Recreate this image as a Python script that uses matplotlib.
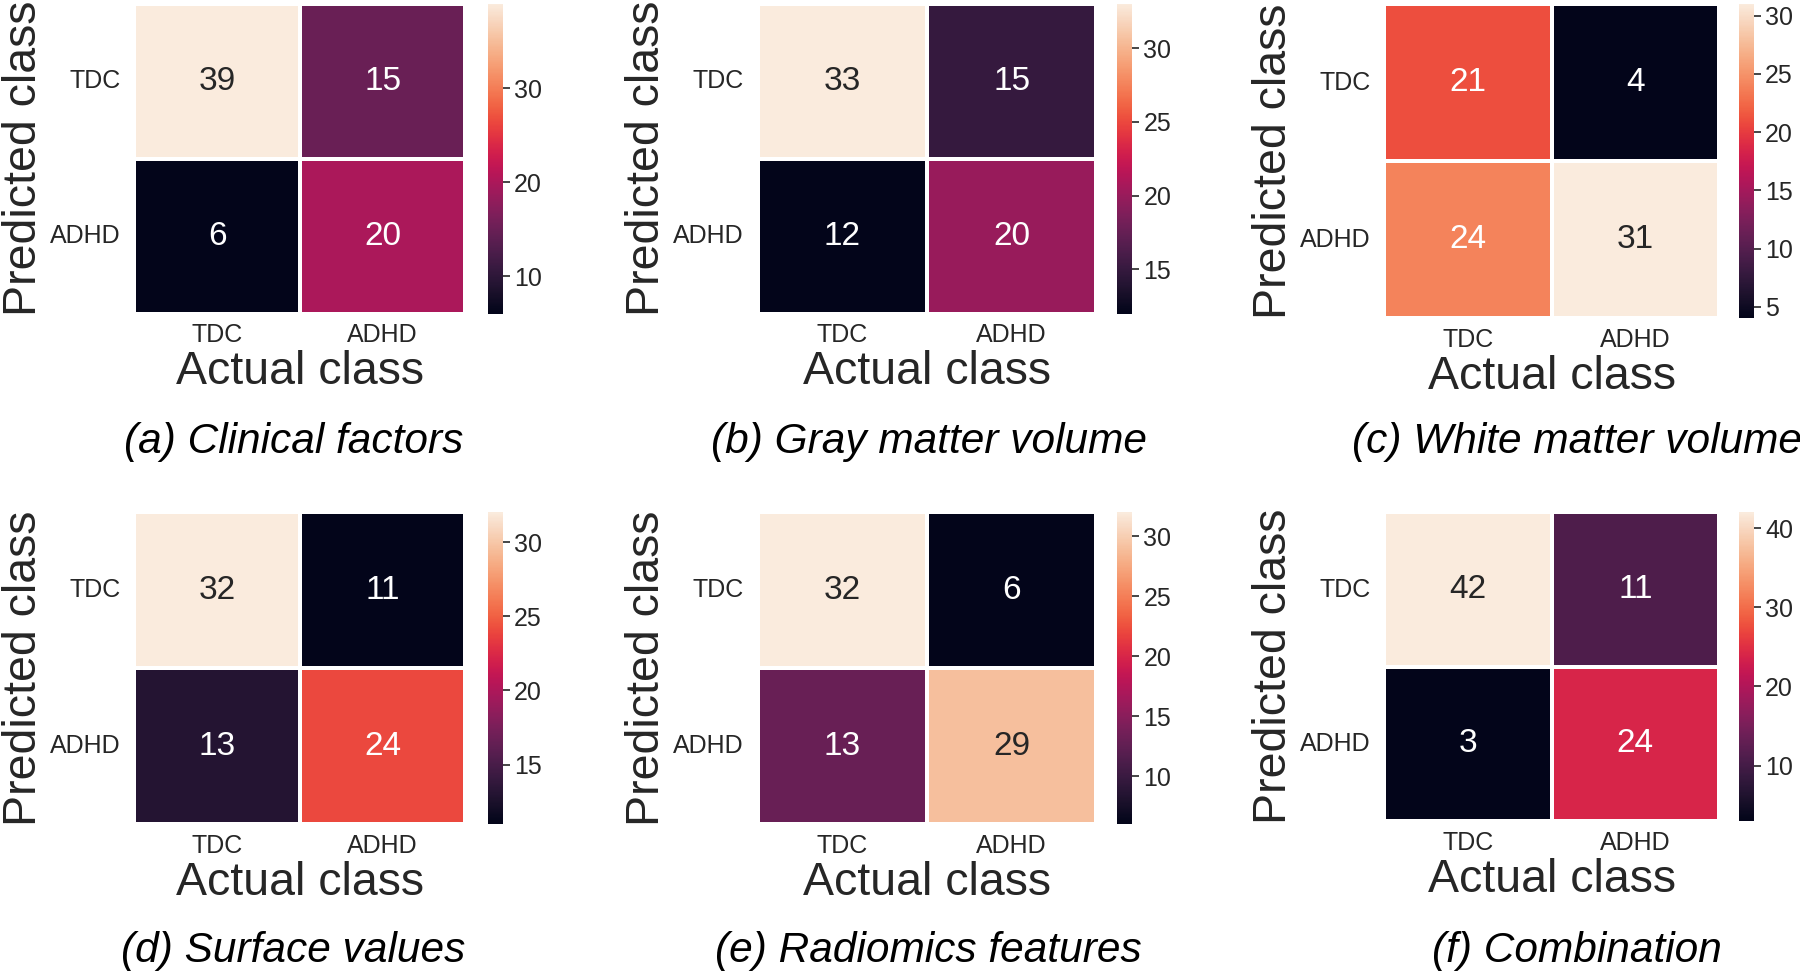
import numpy as np
import matplotlib
matplotlib.use("Agg")
import matplotlib.pyplot as plt
import seaborn as sns

plt.rcParams['font.family'] = ['Liberation Sans', 'DejaVu Sans']
plt.rcParams['text.color'] = '#262626'
plt.rcParams['axes.labelcolor'] = '#262626'
plt.rcParams['xtick.color'] = '#262626'
plt.rcParams['ytick.color'] = '#262626'

# confusion matrices: rows = predicted (TDC, ADHD), cols = actual (TDC, ADHD)
classes = ['TDC', 'ADHD']
clinical = [[39, 15], [6, 20]]
gray_matter = [[33, 15], [12, 20]]
white_matter = [[21, 4], [24, 31]]
surface = [[32, 11], [13, 24]]
radiomics = [[32, 6], [13, 29]]
combination = [[42, 11], [3, 24]]

matrices = [clinical, gray_matter, white_matter, surface, radiomics, combination]
captions = ['(a) Clinical factors', '(b) Gray matter volume', '(c) White matter volume',
            '(d) Surface values', '(e) Radiomics features', '(f) Combination']

fig = plt.figure(figsize=(18, 9.74), dpi=100)

# layout (figure fractions)
col_left = [0.0746, 0.421, 0.769]
col_width = [0.184, 0.188, 0.186]
cbar_left = [0.271, 0.6205, 0.966]
cbar_width = 0.0085
# per panel bottom / height (panel c sits a little lower)
bottoms = [0.678, 0.678, 0.673, 0.154, 0.154, 0.157]
heights = [0.318, 0.318, 0.323, 0.320, 0.320, 0.317]
cap_x = [0.163, 0.516, 0.876]
cap_y = [0.546, 0.024]

for i, cm in enumerate(matrices):
    r, c = divmod(i, 3)
    ax = fig.add_axes([col_left[c], bottoms[i], col_width[c], heights[i]])
    cax = fig.add_axes([cbar_left[c], bottoms[i], cbar_width, heights[i]])
    sns.heatmap(np.array(cm), ax=ax, cbar_ax=cax, cmap='rocket', annot=True, fmt='d',
                annot_kws={'fontsize': 24}, linewidths=1.5, linecolor='white',
                xticklabels=classes, yticklabels=classes, square=False)
    ax.tick_params(axis='both', length=0, labelsize=18)
    ax.tick_params(axis='x', pad=7)
    ax.tick_params(axis='y', rotation=0, pad=10)
    ax.set_xlabel('Actual class', fontsize=33.5, labelpad=2)
    ax.set_ylabel('Predicted class', fontsize=33.5, labelpad=3)
    cax.tick_params(labelsize=18, length=5, width=1.2, pad=3)
    fig.text(cap_x[c], cap_y[r], captions[i], fontsize=30.5, style='italic',
             ha='center', va='center', color='black')

fig.savefig('out.png', dpi=100)
